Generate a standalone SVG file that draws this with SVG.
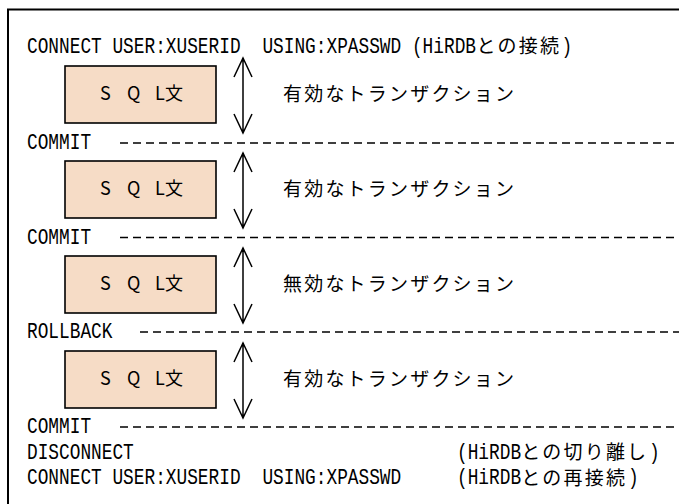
<svg xmlns="http://www.w3.org/2000/svg" width="679" height="504" viewBox="0 0 679 504">
<style>
.m{font-family:"Liberation Mono","DejaVu Sans Mono",monospace;font-size:17.8px;fill:#000}
.j{font-family:"Noto Sans CJK JP","Noto Sans",sans-serif;font-size:19px;letter-spacing:2.2px;fill:#000}
.q{font-family:"Noto Sans CJK JP","Noto Sans",sans-serif;font-size:18px;fill:#000}
.box{fill:#f6dcc6;stroke:#000;stroke-width:1.6}
.dash{stroke:#000;stroke-width:1.5;stroke-dasharray:8 5;fill:none}
.arr{stroke:#000;stroke-width:1.5;fill:none}
</style>
<rect x="8" y="9.5" width="700" height="520" fill="#fff" stroke="#000" stroke-width="2"/>

<g id="connect-line">
<text class="m" y="53" transform="matrix(1 0 0 1.24 0 -12.72)"><tspan x="27">CONNECT USER:XUSERID</tspan><tspan x="262.4">USING:XPASSWD (HiRDB</tspan></text>
<text class="j" x="476.5" y="53">との接続</text>
<text class="m" x="561.5" y="53" transform="matrix(1 0 0 1.24 0 -12.72)">)</text>
</g>

<g id="sql1"><rect class="box" x="65" y="66" width="151" height="57"/><text class="q" x="100 127 155 165" y="100">SQL文</text></g>
<g id="label1"><text class="j" x="283" y="101">有効なトランザクション</text></g>
<g id="commit1"><text class="m" x="27" y="149.5" transform="matrix(1 0 0 1.24 0 -35.88)">COMMIT</text></g>

<g id="sql2"><rect class="box" x="65" y="161" width="151" height="57"/><text class="q" x="100 127 155 165" y="195">SQL文</text></g>
<g id="label2"><text class="j" x="283" y="196">有効なトランザクション</text></g>
<g id="commit2"><text class="m" x="27" y="244" transform="matrix(1 0 0 1.24 0 -58.56)">COMMIT</text></g>

<g id="sql3"><rect class="box" x="65" y="256" width="151" height="57"/><text class="q" x="100 127 155 165" y="290">SQL文</text></g>
<g id="label3"><text class="j" x="283" y="291">無効なトランザクション</text></g>
<g id="rollback"><text class="m" x="27" y="338.5" transform="matrix(1 0 0 1.24 0 -81.24)">ROLLBACK</text></g>

<g id="sql4"><rect class="box" x="65" y="351" width="151" height="57"/><text class="q" x="100 127 155 165" y="385">SQL文</text></g>
<g id="label4"><text class="j" x="283" y="386">有効なトランザクション</text></g>
<g id="commit4"><text class="m" x="27" y="433.5" transform="matrix(1 0 0 1.24 0 -104.04)">COMMIT</text></g>

<g id="disconnect">
<text class="m" y="459" transform="matrix(1 0 0 1.24 0 -110.16)"><tspan x="27">DISCONNECT</tspan><tspan x="457">(HiRDB</tspan></text>
<text class="j" x="521.3" y="459">との切り離し</text>
<text class="m" x="649" y="459" transform="matrix(1 0 0 1.24 0 -110.16)">)</text>
</g>

<g id="reconnect">
<text class="m" y="484.5" transform="matrix(1 0 0 1.24 0 -116.28)"><tspan x="27">CONNECT USER:XUSERID</tspan><tspan x="262.4">USING:XPASSWD</tspan><tspan x="457">(HiRDB</tspan></text>
<text class="j" x="521.3" y="484.5">との再接続</text>
<text class="m" x="628" y="484.5" transform="matrix(1 0 0 1.24 0 -116.28)">)</text>
</g>

<g id="separators">
<line class="dash" x1="120" y1="143" x2="679" y2="143"/>
<line class="dash" x1="120" y1="237.5" x2="679" y2="237.5"/>
<line class="dash" x1="140" y1="332" x2="679" y2="332"/>
<line class="dash" x1="120" y1="427" x2="679" y2="427"/>
</g>

<g id="connectors">
<path class="arr" d="M243 58V133M234 77L243 58L252 77M234 114L243 133L252 114"/>
<path class="arr" d="M243 153V228M234 172L243 153L252 172M234 209L243 228L252 209"/>
<path class="arr" d="M243 248V323M234 267L243 248L252 267M234 304L243 323L252 304"/>
<path class="arr" d="M243 343V418M234 362L243 343L252 362M234 399L243 418L252 399"/>
</g>
</svg>
